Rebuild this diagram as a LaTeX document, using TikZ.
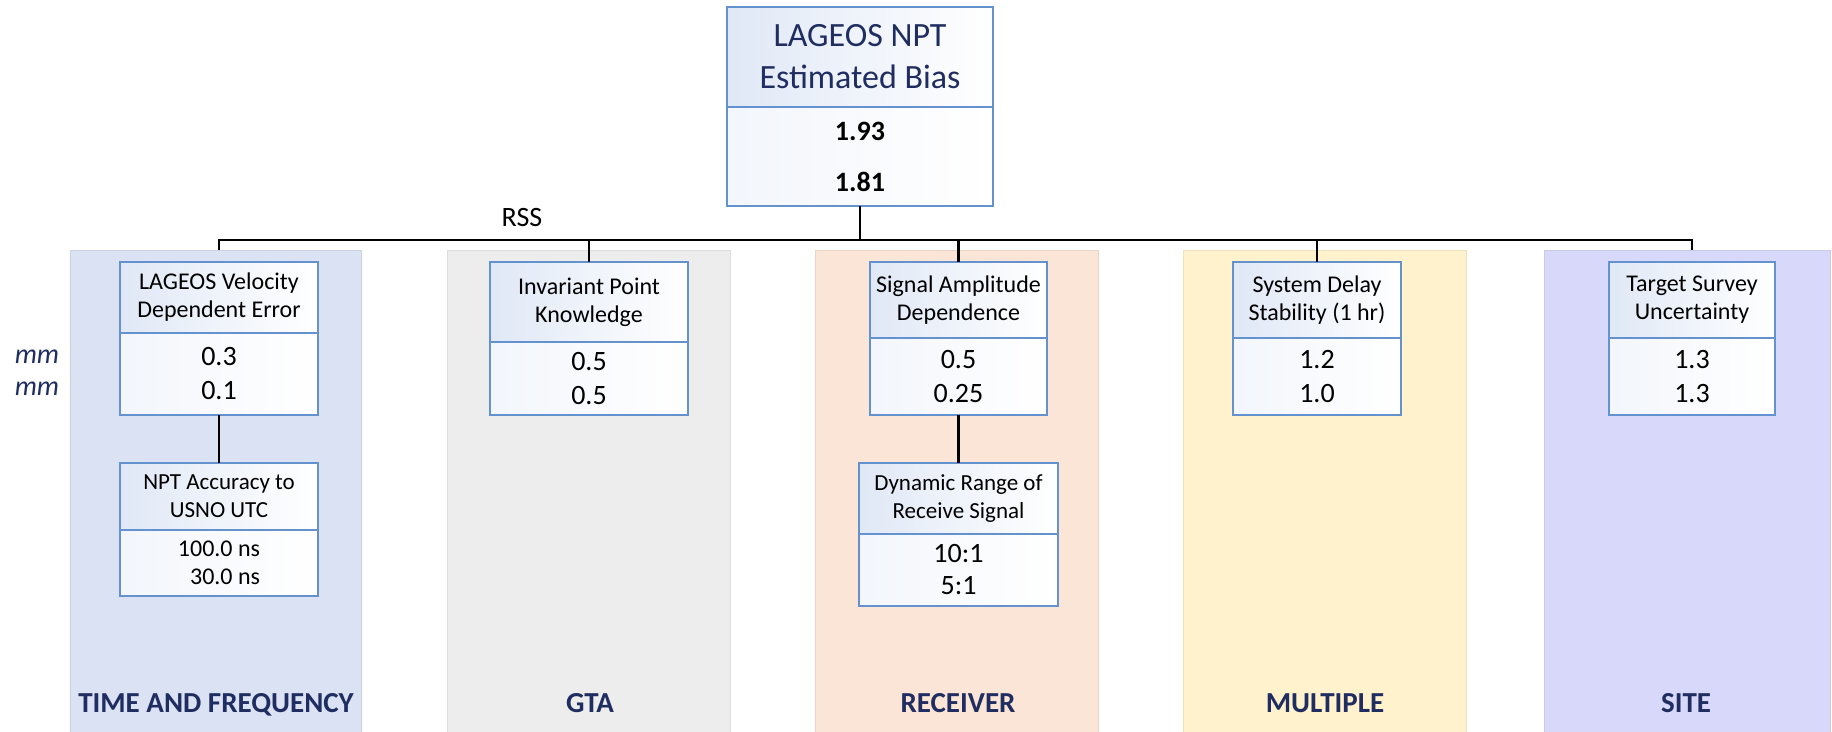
\documentclass[tikz,border=0pt]{standalone}
\usepackage{fontspec}
\setmainfont{Carlito}
\usetikzlibrary{positioning}
\definecolor{boxline}{RGB}{100,146,206}
\definecolor{boxtint}{RGB}{224,232,246}
\definecolor{navy}{RGB}{31,45,96}
\definecolor{tfcolor}{RGB}{218,226,243}
\definecolor{gtacolor}{RGB}{237,237,237}
\definecolor{reccolor}{RGB}{251,229,214}
\definecolor{multcolor}{RGB}{255,242,204}
\definecolor{sitecolor}{RGB}{216,216,250}

\begin{document}
\begin{tikzpicture}[x=0.5pt, y=-0.5pt, line width=1.4pt,
    every node/.style={inner sep=0pt, align=center},
    column/.style 2 args={fill=#1, draw=#1!93!black, line width=0.5pt, minimum width=#2, minimum height=241pt, anchor=north},
    colname/.style={text=navy, anchor=base, font=\bfseries\fontsize{14.5}{17}\selectfont},
    head/.style={draw=boxline, line width=1.1pt, outer sep=0pt, left color=boxtint, right color=white, minimum width=#1, anchor=north, font=\fontsize{12}{14}\selectfont},
    vals/.style={draw=boxline, line width=1.1pt, outer sep=0pt, left color=boxtint!40, right color=white, minimum width=#1, font=\fontsize{14}{17}\selectfont},
    unit/.style={text=navy, font=\itshape\fontsize{14}{17}\selectfont}]
        \useasboundingbox (0,0) rectangle (1832,732);
        % category columns
        \node[column={tfcolor}{145.5pt}]   (tfcol)   at (215.5,250)  {};
        \node[column={gtacolor}{141.5pt}]  (gtacol)  at (588.5,250)  {};
        \node[column={reccolor}{141.5pt}]  (reccol)  at (956.5,250)  {};
        \node[column={multcolor}{141.5pt}] (multcol) at (1324.5,250) {};
        \node[column={sitecolor}{143pt}]   (sitecol) at (1687,250)   {};
        \node[colname] (tfname)   at (216,712)  {TIME AND FREQUENCY};
        \node[colname] (gtaname)  at (590,712)  {GTA};
        \node[colname] (recname)  at (958,712)  {RECEIVER};
        \node[colname] (multname) at (1325,712) {MULTIPLE};
        \node[colname] (sitename) at (1686,712) {SITE};
        % top box
        \node[head=133pt, minimum height=50pt, text=navy, font=\fontsize{17}{21}\selectfont] (top-t) at (860,7) {LAGEOS NPT\\Estimated Bias};
        \node[vals=133pt, minimum height=49.5pt, font=\bfseries\fontsize{14}{25.5}\selectfont] (top-v) [below=0pt of top-t] {1.93\\1.81};
        \node (rss) at (522,218) [font=\fontsize{14}{17}\selectfont] {RSS};
        \coordinate (bus) at (860,240);
        % contributors
        \node[head=99pt, minimum height=35.5pt]   (tf-t)   at (219,262)    {LAGEOS Velocity\\Dependent Error};
        \node[vals=99pt, minimum height=41pt]     (tf-v)   [below=0pt of tf-t]   {0.3\\0.1};
        \node[head=99pt, minimum height=33.5pt, font=\fontsize{11.5}{14}\selectfont] (tf2-t) [below=24pt of tf-v] {NPT Accuracy to\\USNO UTC};
        \node[vals=99pt, minimum height=33pt, font=\fontsize{12}{14}\selectfont]     (tf2-v) [below=0pt of tf2-t] {100.0 ns\\\hphantom{1}30.0 ns};
        \node[head=99pt, minimum height=40pt]     (gta-t)  at (589,262)    {Invariant Point\\Knowledge};
        \node[vals=99pt, minimum height=36.5pt]   (gta-v)  [below=0pt of gta-t]  {0.5\\0.5};
        \node[head=88.5pt, minimum height=38pt]   (rec-t)  at (958.5,262)  {Signal Amplitude\\Dependence};
        \node[vals=88.5pt, minimum height=38.5pt] (rec-v)  [below=0pt of rec-t]  {0.5\\0.25};
        \node[head=99.5pt, minimum height=35.5pt, font=\fontsize{11.5}{14}\selectfont] (rec2-t) [below=24pt of rec-v] {Dynamic Range of\\Receive Signal};
        \node[vals=99.5pt, minimum height=36pt, font=\fontsize{14}{16}\selectfont]     (rec2-v) [below=0pt of rec2-t] {10:1\\5:1};
        \node[head=84pt, minimum height=38pt]     (mult-t) at (1317,262)   {System Delay\\Stability (1 hr)};
        \node[vals=84pt, minimum height=38.5pt]   (mult-v) [below=0pt of mult-t] {1.2\\1.0};
        \node[head=83pt, minimum height=38pt]     (site-t) at (1692,262)   {Target Survey\\Uncertainty};
        \node[vals=83pt, minimum height=38.5pt]   (site-v) [below=0pt of site-t] {1.3\\1.3};
        \node[unit] (mm1) at (37,357) {mm};
        \node[unit] (mm2) at (37,389) {mm};
        % connectors
        \draw (top-v) -- (bus);
        \draw (tf-t.north |- tfcol.north) |- (bus) -| (site-t.north |- sitecol.north);
        \path (gta-t.north)  edge (gta-t.north |- bus)
              (rec-t.north)  edge (rec-t.north |- bus)
              (mult-t.north) edge (mult-t.north |- bus)
              (tf-v)  edge (tf2-t)
              (rec-v) edge (rec2-t);
\end{tikzpicture}
\end{document}
